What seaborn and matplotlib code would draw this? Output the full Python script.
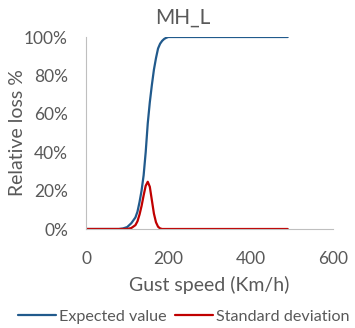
import matplotlib
matplotlib.use("Agg")
import matplotlib.pyplot as plt
import seaborn as sns
import pandas as pd
from matplotlib.ticker import PercentFormatter

# ---- data ----
ev_speed = [0, 80, 90, 100, 110, 120, 125, 130, 135, 140, 145, 150, 155, 160, 165,
            170, 175, 180, 185, 190, 195, 200, 490]
ev_value = [0, 0, 0.3, 1, 3, 6, 9, 14, 20, 28, 40, 55, 66, 75, 83,
            89, 94, 96.5, 98, 99, 99.6, 100, 100]

sd_speed = [0, 100, 110, 120, 125, 130, 135, 140, 145, 150, 155, 160, 165,
            170, 175, 180, 185, 490]
sd_value = [0, 0, 0.5, 2, 4, 7.5, 12, 17.5, 22.5, 24.6, 22, 15, 8,
            3.5, 1.2, 0.3, 0, 0]

x_ticks = [0, 200, 400, 600]
y_ticks = [0, 20, 40, 60, 80, 100]
series_names = ["Expected value", "Standard deviation"]
title = "MH_L"
x_label = "Gust speed (Km/h)"
y_label = "Relative loss %"

# ---- plotting ----
sns.set_theme(style="white")
plt.rcParams["font.family"] = ["Lato", "DejaVu Sans"]
grey = "#595959"
fs = 12.5

fig = plt.figure(figsize=(3.55, 3.28), dpi=100)
ax = fig.add_axes([86/355, 1-229/328, (333-86)/355, (229-37)/328])

df_ev = pd.DataFrame({"speed": ev_speed, "value": ev_value})
df_sd = pd.DataFrame({"speed": sd_speed, "value": sd_value})
sns.lineplot(data=df_ev, x="speed", y="value", ax=ax, color="#215a8c",
             linewidth=1.6, label=series_names[0])
sns.lineplot(data=df_sd, x="speed", y="value", ax=ax, color="#c00000",
             linewidth=1.6, label=series_names[1])

ax.set_xlim(0, 600)
ax.set_ylim(0, 100)
ax.set_xticks(x_ticks)
ax.set_yticks(y_ticks)
ax.yaxis.set_major_formatter(PercentFormatter(100, decimals=0))
ax.tick_params(axis="both", length=0, labelsize=fs, colors=grey)
ax.tick_params(axis="y", pad=13)
ax.tick_params(axis="x", pad=15.5)
for s in ["top", "right"]:
    ax.spines[s].set_visible(False)
for s in ["left", "bottom"]:
    ax.spines[s].set_color("#bfbfbf")
    ax.spines[s].set_linewidth(0.8)
ax.set_xlabel(x_label, fontsize=14, color=grey)
ax.xaxis.set_label_coords((209-86)/247, -(276-229)/192)
ax.set_ylabel(y_label, fontsize=14, color=grey)
ax.yaxis.set_label_coords((26-86)/247, 0.5)
fig.text(183/355, 1-18/328, title, ha="center", va="center", fontsize=15, color=grey)

ax.legend(loc="center", bbox_to_anchor=((183.5-86)/247, -(317-229)/192), ncol=2,
          frameon=False, fontsize=11.6, handlelength=2.4, handletextpad=0.15,
          columnspacing=0.5, labelcolor=grey, borderaxespad=0, borderpad=0)

fig.savefig("out.png", dpi=100)
